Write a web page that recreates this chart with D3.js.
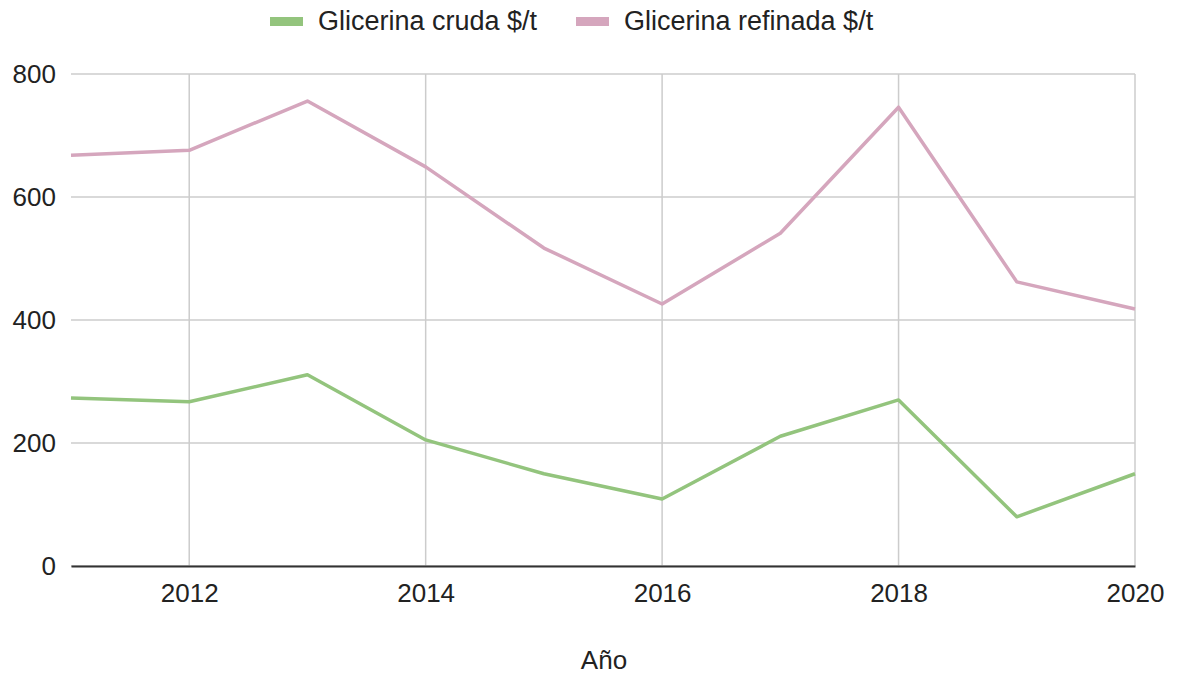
<!DOCTYPE html>
<html>
<head>
<meta charset="utf-8">
<script src="https://cdn.jsdelivr.net/npm/d3@7"></script>
<style>
  body { margin: 0; background: #fff; }
  text { font-family: "Liberation Sans", Arial, sans-serif; fill: #222; }
</style>
</head>
<body>
<div id="container"></div>
<script>
// Données
const years = [2011, 2012, 2013, 2014, 2015, 2016, 2017, 2018, 2019, 2020];
const cruda = [273, 267, 311, 205, 150, 109, 211, 270, 80, 150];
const refinada = [668, 676, 756, 649, 517, 426, 541, 746, 462, 418];
const seriesNames = ["Glicerina cruda $/t", "Glicerina refinada $/t"];
const xTicks = [2012, 2014, 2016, 2018, 2020];
const yTicks = [0, 200, 400, 600, 800];

const width = 1179;
const height = 675;
const margin = { top: 74, right: 44, bottom: 109, left: 71 };
const colors = ["#93c47d", "#d5a6bd"];

const svg = d3.select("#container")
    .append("svg")
    .attr("width", width)
    .attr("height", height);

const xScale = d3.scaleLinear()
    .domain([2011, 2020])
    .range([margin.left, width - margin.right]);

const yScale = d3.scaleLinear()
    .domain([0, 800])
    .range([height - margin.bottom, margin.top]);

// Grille horizontale
svg.append("g")
    .selectAll("line")
    .data(yTicks)
    .enter()
    .append("line")
    .attr("x1", margin.left)
    .attr("x2", width - margin.right)
    .attr("y1", d => yScale(d))
    .attr("y2", d => yScale(d))
    .attr("stroke", "#cccccc")
    .attr("stroke-width", 1.5);

// Grille verticale
svg.append("g")
    .selectAll("line")
    .data(xTicks)
    .enter()
    .append("line")
    .attr("x1", d => xScale(d))
    .attr("x2", d => xScale(d))
    .attr("y1", yScale(800))
    .attr("y2", yScale(0))
    .attr("stroke", "#cccccc")
    .attr("stroke-width", 1.5);

// Axe X
const xAxis = d3.axisBottom(xScale)
    .tickValues(xTicks)
    .tickFormat(d3.format("d"))
    .tickSize(0)
    .tickPadding(18);

const gx = svg.append("g")
    .attr("transform", `translate(0,${yScale(0)})`)
    .call(xAxis);
gx.select(".domain").attr("stroke", "#333").attr("stroke-width", 2);
gx.selectAll("text").style("font-size", "26px");

// Axe Y
const yAxis = d3.axisLeft(yScale)
    .tickValues(yTicks)
    .tickSize(0)
    .tickPadding(15);

const gy = svg.append("g")
    .attr("transform", `translate(${margin.left},0)`)
    .call(yAxis);
gy.select(".domain").remove();
gy.selectAll("text").style("font-size", "26px");

// Lignes
const line = d3.line()
    .x((d, i) => xScale(years[i]))
    .y(d => yScale(d));

[cruda, refinada].forEach((values, i) => {
    svg.append("path")
        .datum(values)
        .attr("fill", "none")
        .attr("stroke", colors[i])
        .attr("stroke-width", 3.5)
        .attr("stroke-linejoin", "round")
        .attr("d", line);
});

// Titre de l'axe X
svg.append("text")
    .attr("x", 604)
    .attr("y", 669)
    .attr("text-anchor", "middle")
    .style("font-size", "26px")
    .text("Año");

// Légende
const legendX = [270, 576];
seriesNames.forEach((name, i) => {
    const g = svg.append("g").attr("transform", `translate(${legendX[i]},0)`);
    g.append("rect")
        .attr("x", 0)
        .attr("y", 17)
        .attr("width", 33)
        .attr("height", 9)
        .attr("fill", colors[i]);
    g.append("text")
        .attr("x", 48)
        .attr("y", 30)
        .style("font-size", "27px")
        .text(name);
});
</script>
</body>
</html>
